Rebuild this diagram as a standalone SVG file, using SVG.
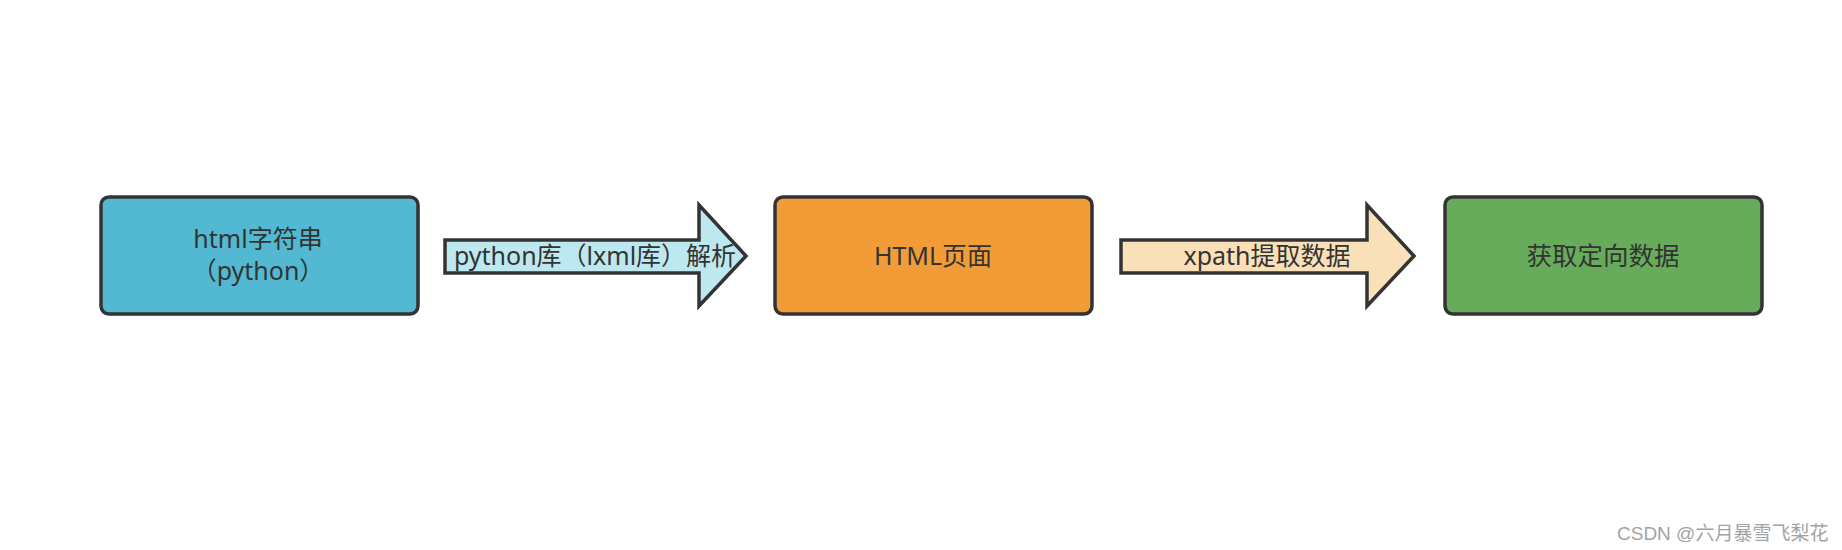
<svg xmlns="http://www.w3.org/2000/svg" width="1842" height="550" viewBox="0 0 1842 550">
<style>
.node{stroke:#333333;stroke-width:3.5;}
.arrow{stroke:#333333;stroke-width:3.5;stroke-linejoin:miter;}
.lbl{font-family:"Noto Sans","Noto Sans CJK SC",sans-serif;font-size:25px;fill:#333333;text-anchor:middle;}
.wm{font-family:"Liberation Sans","Noto Sans CJK SC",sans-serif;font-size:19px;fill:#a3a3a3;}
</style>
<rect width="1842" height="550" fill="#ffffff"/>
<g id="connectors">
  <g id="arrow1">
    <polygon class="arrow" fill="#bee8f0" points="445,240 699,240 699,205 746,256 699,306 699,273 445,273"/>
    <text class="lbl" x="595" y="265">python库（lxml库）解析</text>
  </g>
  <g id="arrow2">
    <polygon class="arrow" fill="#fae0b9" points="1121,240 1367,240 1367,205 1414,256 1367,306 1367,273 1121,273"/>
    <text class="lbl" x="1267" y="265">xpath提取数据</text>
  </g>
</g>
<g id="node1">
  <rect class="node" x="101" y="197" width="317" height="117" rx="8" fill="#53b9d2"/>
  <text class="lbl" x="258" y="248">html字符串</text>
  <text class="lbl" x="258" y="280">（python）</text>
</g>
<g id="node2">
  <rect class="node" x="775" y="197" width="317" height="117" rx="8" fill="#f19c37"/>
  <text class="lbl" x="933" y="265">HTML页面</text>
</g>
<g id="node3">
  <rect class="node" x="1445" y="197" width="317" height="117" rx="8" fill="#67ac5b"/>
  <text class="lbl" x="1603" y="265" style="font-size:25.5px">获取定向数据</text>
</g>
<text class="wm" x="1617" y="540">CSDN @六月暴雪飞梨花</text>
</svg>
